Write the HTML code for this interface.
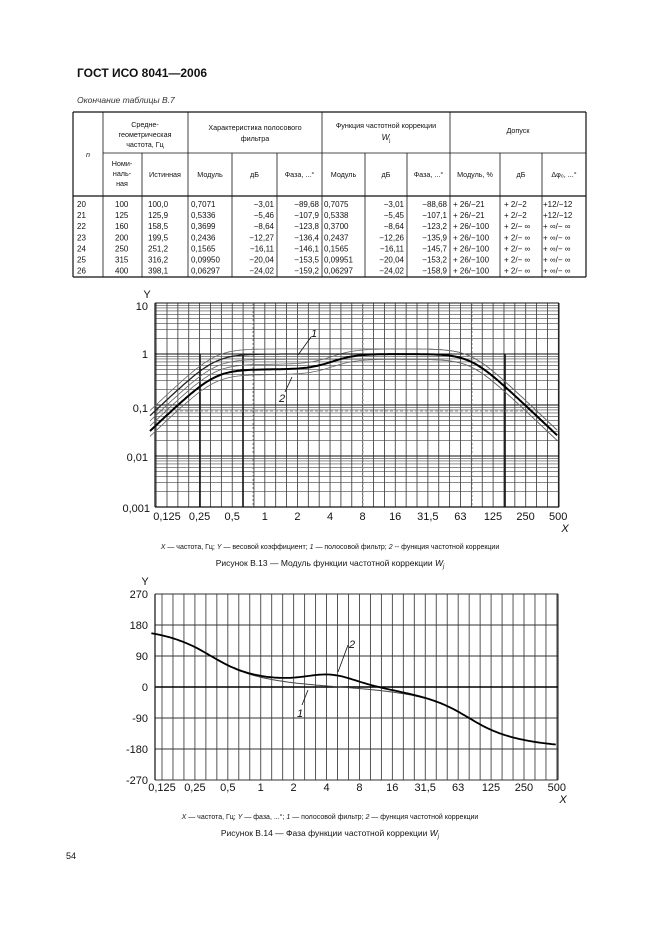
<!DOCTYPE html>
<html><head><meta charset="utf-8"><style>
body{margin:0;background:#fff;}
#pg{position:relative;width:661px;height:936px;overflow:hidden;font-family:"Liberation Sans",sans-serif;color:#111;}
.a{position:absolute;white-space:nowrap;}
</style></head><body><div id="pg">
<div class="a" style="left:77px;top:66px;font-size:12px;font-weight:bold;">ГОСТ ИСО 8041—2006</div>
<div class="a" style="left:77px;top:95px;font-size:8.5px;font-style:italic;color:#333;">Окончание таблицы В.7</div>
<svg id="s" width="661" height="936" style="position:absolute;left:0;top:0" font-family="Liberation Sans, sans-serif"></svg>
</div>
<script>
var s=document.getElementById('s'),h='';
function L(x1,y1,x2,y2,w,c,d){h+='<line x1="'+x1+'" y1="'+y1+'" x2="'+x2+'" y2="'+y2+'" stroke="'+(c||'#111')+'" stroke-width="'+(w||1)+'"'+(d?' stroke-dasharray="'+d+'"':'')+'/>';}
function T(x,y,t,sz,an,st){h+='<text x="'+x+'" y="'+y+'" font-size="'+sz+'" text-anchor="'+(an||'start')+'" fill="#111" '+(st||'')+'>'+t+'</text>';}
var cx=[73,103,142,188,232,277,322,365,407,450,500,542,586];
L(73,112,586,112,1.2);L(73,196,586,196,1.2);L(73,277,586,277,1.2);
L(103,153,586,153,0.8);
[73,586].forEach(function(x){L(x,112,x,277,1.2)});
[103,188,322,450].forEach(function(x){L(x,112,x,277,0.8)});
[142,232,277,365,407,500,542].forEach(function(x){L(x,153,x,277,0.8)});
var f=7.2;
T(88,157,'<tspan font-style="italic">n</tspan>',f,'middle');
T(145,127,'Средне-',f,'middle');T(145,137,'геометрическая',f,'middle');T(145,147,'частота, Гц',f,'middle');
T(255,130,'Характеристика полосового',f,'middle');T(255,141,'фильтра',f,'middle');
T(386,128,'Функция частотной коррекции',f,'middle');T(386,140,'<tspan font-style="italic">W</tspan><tspan font-size="5" dy="2">j</tspan>',f+1,'middle');
T(518,133,'Допуск',f,'middle');
T(122,166,'Номи-',f,'middle');T(122,176,'наль-',f,'middle');T(122,186,'ная',f,'middle');
var hd=['Истинная','Модуль','дБ','Фаза, ...°','Модуль','дБ','Фаза, ...°','Модуль, %','дБ','Δφ₀, ...°'];
for(var i=0;i<10;i++)T((cx[i+2]+cx[i+3])/2,177,hd[i],f,'middle');
var rows=[['20','100','100,0','0,7071','−3,01','−89,68','0,7075','−3,01','−88,68','+ 26/−21','+ 2/−2','+12/−12'],
['21','125','125,9','0,5336','−5,46','−107,9','0,5338','−5,45','−107,1','+ 26/−21','+ 2/−2','+12/−12'],
['22','160','158,5','0,3699','−8,64','−123,8','0,3700','−8,64','−123,2','+ 26/−100','+ 2/− ∞','+ ∞/− ∞'],
['23','200','199,5','0,2436','−12,27','−136,4','0,2437','−12,26','−135,9','+ 26/−100','+ 2/− ∞','+ ∞/− ∞'],
['24','250','251,2','0,1565','−16,11','−146,1','0,1565','−16,11','−145,7','+ 26/−100','+ 2/− ∞','+ ∞/− ∞'],
['25','315','316,2','0,09950','−20,04','−153,5','0,09951','−20,04','−153,2','+ 26/−100','+ 2/− ∞','+ ∞/− ∞'],
['26','400','398,1','0,06297','−24,02','−159,2','0,06297','−24,02','−158,9','+ 26/−100','+ 2/− ∞','+ ∞/− ∞']];
var lx=[[77,'s'],[115,'s'],[148,'s'],[191,'s'],[274,'e'],[319,'e'],[324,'s'],[404,'e'],[447,'e'],[453,'s'],[504,'s'],[543,'s']];
rows.forEach(function(r,j){var y=207+j*11.1;r.forEach(function(t,k){T(lx[k][0],y,t,8,lx[k][1]=='e'?'end':'start')})});
function X1(f){return 167+32.6*Math.log2(f/0.125)}
function Y1(v){return 354-51*Math.log10(v)}
for(var k=-1;k<=36;k++){var x=167+k*10.87;if(x<155||x>560)continue;L(x,303,x,507,0.8,'#333');}
for(var d=-3;d<1;d++)for(var m=1;m<10;m++){var y=Y1(m*Math.pow(10,d));L(155,y,559,y,m==1?1:0.6,m==1?'#111':'#444');}
L(155,303,559,303,1);
[200,243,505].forEach(function(x){L(x,354,x,507,1.6)});
[253,363,472].forEach(function(x){L(x,303,x,507,1,'#888','2,2')});
L(155,411,540,411,1,'#999','3,2');
L(155,303,155,507,1.2);L(559,303,559,507,1);L(155,507,559,507,1.2);
function hp(f,c){return 1/Math.sqrt(1+Math.pow(c/f,4))}
function lp(f,c){return 1/Math.sqrt(1+Math.pow(f/c,4))}
function m1(f){return hp(f,0.35)*lp(f,80)}
function m2(f){return m1(f)*0.5*Math.sqrt((1+Math.pow(f/3.5,4))/(1+Math.pow(f/4.95,4)))}
function P(fn,sc,X,Y,f0,f1,w,c){var p='';for(var i=0;i<=200;i++){var ff=f0*Math.pow(f1/f0,i/200);var v=fn(ff)*sc;p+=(i?'L':'M')+X(ff).toFixed(1)+','+Y(v).toFixed(1);}h+='<path d="'+p+'" fill="none" stroke="'+c+'" stroke-width="'+w+'"/>';}
[[m1,1.26],[m1,0.79],[m2,1.26],[m2,0.79]].forEach(function(a){P(a[0],a[1],X1,Y1,0.087,500,0.8,'#666')});
P(m1,1,X1,Y1,0.087,500,1.3,'#222');P(m2,1,X1,Y1,0.087,500,2,'#000');
T(148,310,'10',11,'end');T(148,358,'1',11,'end');T(148,412,'0,1',11,'end');T(148,461,'0,01',11,'end');T(150,512,'0,001',11,'end');
T(147,298,'Y',11,'middle');
var xl=['0,125','0,25','0,5','1','2','4','8','16','31,5','63','125','250','500'];
xl.forEach(function(t,i){T(167+i*32.6,520,t,11,'middle')});
T(565,532,'X',11,'middle','font-style="italic"');
L(311,337,298,355,0.8);T(314,337,'1',11,'middle','font-style="italic"');
L(292,377,285,392,0.8);T(282,402,'2',11,'middle','font-style="italic"');
T(330,549,'<tspan font-style="italic">X</tspan> — частота, Гц; <tspan font-style="italic">Y</tspan> — весовой коэффициент; <tspan font-style="italic">1</tspan> — полосовой фильтр; <tspan font-style="italic">2</tspan> -- функция частотной коррекции',7,'middle');
T(330,566,'Рисунок В.13 — Модуль функции частотной коррекции <tspan font-style="italic">W</tspan><tspan font-size="6" dy="2" font-style="italic">j</tspan>',8.5,'middle');
function X2(f){return 162+32.9*Math.log2(f/0.125)}
function Y2(d){return 687-d*0.3444}
for(var k=-1;k<=36;k++){var x=162+k*10.97;if(x<155||x>560)continue;L(x,594,x,780,0.9,'#444');}
for(var d=-270;d<=270;d+=90){L(155,Y2(d),558,Y2(d),d==0?1.6:0.9,d==0?'#000':'#333');}
L(155,594,155,780,1.2);L(558,594,558,780,1);
function ph1(f){var w=f/0.35,a=180-Math.atan2(Math.SQRT2*w,1-w*w)*180/Math.PI;var u=f/80;return a-Math.atan2(Math.SQRT2*u,1-u*u)*180/Math.PI;}
function ph2(f){return ph1(f)+(Math.atan(Math.pow(f/3.2,2))-Math.atan(Math.pow(f/6,2)))*180/Math.PI}
function P2(fn,w,c){var p='';for(var i=0;i<=200;i++){var ff=0.1*Math.pow(5000,i/200);p+=(i?'L':'M')+X2(ff).toFixed(1)+','+Y2(fn(ff)).toFixed(1);}h+='<path d="'+p+'" fill="none" stroke="'+c+'" stroke-width="'+w+'"/>';}
P2(ph1,1,'#444');P2(ph2,1.8,'#000');
['270','180','90','0','-90','-180','-270'].forEach(function(t,i){T(148,598+i*31,t,11,'end')});
T(145,585,'Y',11,'middle');
xl.forEach(function(t,i){T(162+i*32.9,791,t,11,'middle')});
T(563,803,'X',11,'middle','font-style="italic"');
L(348,645,338,672,0.8);T(352,648,'2',11,'middle','font-style="italic"');
L(308,690,302,705,0.8);T(300,717,'1',11,'middle','font-style="italic"');
T(330,819,'<tspan font-style="italic">X</tspan> — частота, Гц; <tspan font-style="italic">Y</tspan> — фаза, ...°; <tspan font-style="italic">1</tspan> — полосовой фильтр; <tspan font-style="italic">2</tspan> — функция частотной коррекции',7,'middle');
T(330,836,'Рисунок В.14 — Фаза функции частотной коррекции <tspan font-style="italic">W</tspan><tspan font-size="6" dy="2" font-style="italic">j</tspan>',8.5,'middle');
T(66,859,'54',9);
s.innerHTML=h;
</script>
</body></html>
